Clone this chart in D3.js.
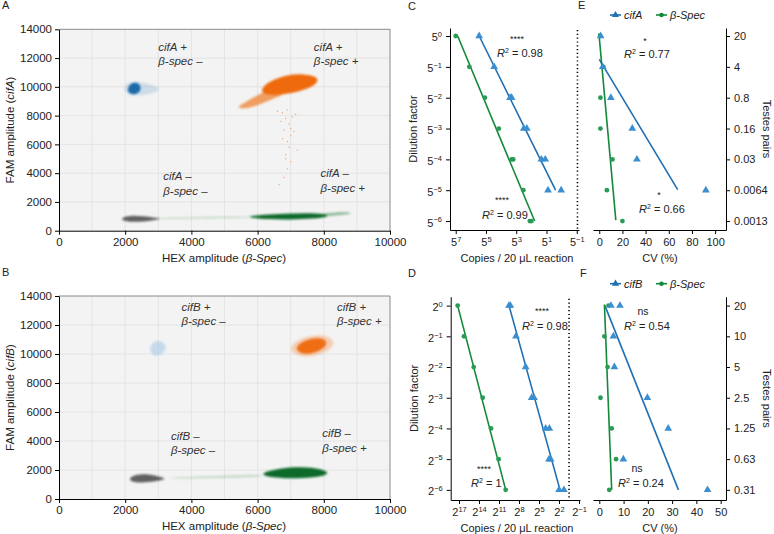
<!DOCTYPE html>
<html>
<head>
<meta charset="utf-8">
<script src="https://cdn.jsdelivr.net/npm/d3@7"></script>
<style>
  body { margin: 0; background: #fff; }
  svg { font-family: "Liberation Sans", Arial, sans-serif; }
  .tick text { fill: #222; }
  .domain, .tick line { stroke: #000; }
</style>
</head>
<body>
<svg id="fig" width="774" height="534"></svg>
<script>
// ---------- data ----------
const hexTicks = [0, 2000, 4000, 6000, 8000, 10000];
const famTicks = [0, 2000, 4000, 6000, 8000, 10000, 12000, 14000];

// droplet clouds, traced as outlines [HEX, FAM]
const aDoubleNeg = [[1880,820],[1960,690],[2200,600],[2550,630],[2850,730],[3150,830],[2850,910],[2550,1000],[2200,1080],[1960,960]];
const aStreak = [[2900,800],[4400,860],[5900,905],[5900,995],[4400,940],[2900,890]];
const aHexPos = [[5750,910],[6300,790],[7000,760],[7700,840],[8150,950],[8100,1170],[7500,1240],[6800,1190],[6200,1110],[5750,1020]];
const aHexTail = [[7900,980],[8400,1070],[8850,1170],[8800,1300],[8300,1260],[7900,1180]];
const aFamHalo = [[1950,9750],[2150,9350],[2700,9450],[3150,9800],[2800,10150],[2300,10450],[2000,10200]];
const aFamPos = [[2050,9800],[2130,9500],[2320,9460],[2460,9700],[2480,10020],[2370,10330],[2170,10280]];
const aBothTail = [[5450,8480],[5850,8550],[6450,9150],[6900,9550],[6700,9950],[6150,9650],[5650,8950],[5400,8650]];
const aBothPos = [[6150,9450],[6650,9420],[7300,9680],[7800,10150],[7850,10700],[7400,10900],[6900,10850],[6400,10450],[6100,9900]];
const aStray = [[6750,8200],[6850,7800],[6950,7400],[6800,7000],[7000,6600],[6900,6200],[6950,5800],[6850,5300],[7000,4800],[6900,4300],[6800,3700],[7050,7900],[6700,7600],[7100,6900],[6750,6400],[7200,5600],[6650,3200],[6900,8400],[7150,8100],[6600,8300],[7000,7100],[6850,5000]];

const bDoubleNeg = [[2100,1400],[2200,1180],[2500,1110],[2900,1200],[3300,1400],[3000,1560],[2700,1720],[2300,1700]];
const bStreak = [[3250,1390],[4800,1440],[6200,1530],[6200,1690],[4800,1590],[3250,1490]];
const bHexPos = [[6100,1650],[6500,1470],[7200,1400],[7850,1500],[8200,1760],[7950,2080],[7300,2230],[6700,2130],[6250,1890]];
const bFamPos = [[2700,10300],[2850,9850],[3100,9900],[3280,10450],[3100,10950],[2850,10900]];
const bBothHalo = [[6950,10200],[7350,9700],[8050,10000],[8400,10800],[8050,11400],[7400,11200],[7050,10700]];
const bBothPos = [[7150,10250],[7400,9920],[7900,10180],[8150,10750],[7950,11150],[7500,11020],[7200,10650]];

// cluster annotations [HEX, FAM, line1, line2]
const aLabels = [[3000,12500,"cifA +","β-spec –"],[7700,12500,"cifA +","β-spec +"],[3150,3500,"cifA –","β-spec –"],[7900,3700,"cifA –","β-spec +"]];
const bLabels = [[3700,13000,"cifB +","β-spec –"],[8400,13000,"cifB +","β-spec +"],[3380,4100,"cifB –","β-spec –"],[7950,4250,"cifB –","β-spec +"]];

// C: dilution 5^-n vs copies / 20 µL
const dilC = [1, 0.2, 0.04, 0.008, 0.0016, 0.00032, 0.000064];
const cSpec = [[1,78125],[0.2,18360],[0.04,3497],[0.008,796],[0.0016,203],[0.0016,172],[0.00032,58.7],[0.000064,29.4],[0.000064,25]];
const cCifA = [[1,6447],[0.2,1311],[0.04,241],[0.04,203],[0.008,55.9],[0.008,40.5],[0.0016,8.6],[0.0016,5.7],[0.00032,4.25],[0.00032,1.05]];
const cFitSpec = [[1,63360],[0.000064,17.6]];
const cFitCifA = [[1,6447],[0.00032,1.9]];
const cCopyTicks = [78125, 3125, 125, 5, 0.2];
const cCutoff = 0.185;

// D: dilution 2^-n
const dilD = [1, 0.5, 0.25, 0.125, 0.0625, 0.03125, 0.015625];
const dSpec = [[1,150562],[0.5,77936],[0.25,28526],[0.125,11193],[0.0625,4705],[0.03125,2120],[0.015625,1024]];
const dCifB = [[1,724],[1,630],[0.5,350],[0.25,128],[0.125,68.6],[0.125,53.8],[0.0625,16],[0.0625,10.9],[0.03125,11.3],[0.03125,9.5],[0.015625,4],[0.015625,2.4]];
const dFitSpec = [[1,150562],[0.015625,1024]];
const dFitCifB = [[1,724],[0.015625,3.6]];
const dCopyTicks = [131072, 16384, 2048, 256, 32, 4, 0.5];
const dCutoff = 1.41;

// E: CV (%) vs testes pairs
const pairsE = [20, 4, 0.8, 0.16, 0.032, 0.0064, 0.00128];
const pairsELabels = ["20","4","0.8","0.16","0.03","0.0064","0.0013"];
const eCifA = [[1.2,20],[3,4],[10,0.8],[28.5,0.16],[32.5,0.032],[92,0.0064]];
const eSpec = [[0.7,20],[3.5,4],[1,0.8],[1,0.16],[11.4,0.032],[6.6,0.0064],[20,0.00128]];
const eFitCifA = [[0,5.93],[67.7,0.0066]];
const eFitSpec = [[-0.3,23],[14.3,0.00134]];
const cvTicksE = [0, 20, 40, 60, 80, 100];

// F
const pairsF = [20, 10, 5, 2.5, 1.25, 0.625, 0.3125];
const pairsFLabels = ["20","10","5","2.5","1.25","0.63","0.31"];
const fCifB = [[4.8,20],[8.5,20],[5.8,10],[6.2,5],[19.8,2.5],[28.4,1.25],[9.9,0.625],[44.6,0.3125]];
const fSpec = [[3.8,20],[2.1,10],[3.4,5],[0.5,2.5],[5.1,1.25],[6.9,0.625],[4.1,0.3125]];
const fFitCifB = [[2.3,20],[32.6,0.3125]];
const fFitSpec = [[2.1,20.5],[5.1,0.3125]];
const cvTicksF = [0, 10, 20, 30, 40, 50];

// ---------- drawing ----------
const svg = d3.select("#fig");
const BLUE = "#1f6fb2", BLUE_PT = "#3b8fd0", GREEN = "#128a3a", GREEN_PT = "#2a9a55";
const TXT = "#222";

const defs = svg.append("defs");
defs.append("filter").attr("id", "soft").attr("x", "-20%").attr("y", "-20%").attr("width", "140%").attr("height", "140%")
  .append("feGaussianBlur").attr("stdDeviation", 0.9);

function panelLetter(t, x, y) {
  svg.append("text").attr("x", x).attr("y", y).attr("font-size", 11).attr("fill", TXT).text(t);
}

function supTicks(sel, base) {
  sel.each(function(d) {
    const e = Math.round(Math.log(d) / Math.log(base));
    const t = d3.select(this).text(null);
    t.append("tspan").text(base);
    t.append("tspan").attr("dy", "-0.55em").attr("font-size", "0.68em").text(e < 0 ? "−" + (-e) : e);
  });
}

function rsq(g, x, y, val) {
  const t = g.append("text").attr("x", x).attr("y", y).attr("font-size", 11).attr("fill", TXT);
  t.append("tspan").attr("font-style", "italic").text("R");
  t.append("tspan").attr("dy", -4).attr("font-size", 7).text("2");
  t.append("tspan").attr("dy", 4).text(" = " + val);
}
function stars(g, x, y, s, size) {
  g.append("text").attr("x", x).attr("y", y).attr("text-anchor", "middle")
    .attr("font-size", size || 9).attr("fill", TXT).text(s);
}

// droplet scatter panels
function droplets(top, bottom, clusters, strays, labels, yName) {
  const x = d3.scaleLinear().domain([0, 10000]).range([59, 390]);
  const y = d3.scaleLinear().domain([0, 14000]).range([bottom, top]);
  const g = svg.append("g");
  g.append("rect").attr("x", 59).attr("y", top).attr("width", 331).attr("height", bottom - top).attr("fill", "#f3f3f3");
  g.append("g").selectAll("line").data(d3.range(1000, 10000, 1000)).join("line")
    .attr("x1", d => x(d)).attr("x2", d => x(d)).attr("y1", top).attr("y2", bottom)
    .attr("stroke", "#e0e0e0").attr("stroke-width", 0.8);
  g.append("g").selectAll("line").data(famTicks.slice(1, -1)).join("line")
    .attr("y1", d => y(d)).attr("y2", d => y(d)).attr("x1", 59).attr("x2", 390)
    .attr("stroke", "#e0e0e0").attr("stroke-width", 0.8);
  g.append("path").attr("d", `M59,${top}H390V${bottom}`).attr("fill", "none").attr("stroke", "#8a8a8a");

  const line = d3.line().x(d => x(d[0])).y(d => y(d[1])).curve(d3.curveBasisClosed);
  g.append("g").attr("filter", "url(#soft)").selectAll("path").data(clusters).join("path")
    .attr("d", d => line(d.pts)).attr("fill", d => d.color).attr("fill-opacity", d => d.op);
  g.append("g").selectAll("circle").data(strays).join("circle")
    .attr("cx", d => x(d[0])).attr("cy", d => y(d[1])).attr("r", 0.7)
    .attr("fill", "#f08a40").attr("opacity", 0.7);

  g.append("g").attr("transform", `translate(0,${bottom})`)
    .call(d3.axisBottom(x).tickValues(hexTicks).tickFormat(d3.format("d")).tickSize(4).tickSizeOuter(0).tickPadding(3))
    .call(a => a.selectAll("text").attr("font-size", 11.5));
  g.append("g").attr("transform", "translate(59,0)")
    .call(d3.axisLeft(y).tickValues(famTicks).tickFormat(d3.format("d")).tickSize(4).tickSizeOuter(0).tickPadding(3))
    .call(a => a.selectAll("text").attr("font-size", 11.5));

  const lab = g.append("g").attr("font-size", 11.5).attr("font-style", "italic").attr("fill", "#333");
  labels.forEach(l => {
    lab.append("text").attr("x", x(l[0])).attr("y", y(l[1])).text(l[2]);
    lab.append("text").attr("x", x(l[0])).attr("y", y(l[1]) + 14.5).text(l[3]);
  });

  const xt = g.append("text").attr("x", 224).attr("y", bottom + 31).attr("text-anchor", "middle").attr("font-size", 11.5).attr("fill", TXT);
  xt.append("tspan").text("HEX amplitude (");
  xt.append("tspan").attr("font-style", "italic").text("β-Spec");
  xt.append("tspan").text(")");
  const cy = (top + bottom) / 2;
  const yt = g.append("text").attr("transform", `translate(14,${cy}) rotate(-90)`).attr("text-anchor", "middle").attr("font-size", 11.5).attr("fill", TXT);
  yt.append("tspan").text("FAM amplitude (");
  yt.append("tspan").attr("font-style", "italic").text(yName);
  yt.append("tspan").text(")");
}

droplets(29.3, 230.7, [
  { pts: aDoubleNeg, color: "#5a5a5a", op: 0.95 },
  { pts: aStreak, color: "#4f9a5e", op: 0.45 },
  { pts: aHexTail, color: "#2f8447", op: 0.55 },
  { pts: aHexPos, color: "#0d6a2c", op: 1 },
  { pts: aFamHalo, color: "#4a8cc4", op: 0.22 },
  { pts: aFamPos, color: "#1f6aa8", op: 1 },
  { pts: aBothTail, color: "#f07a24", op: 0.7 },
  { pts: aBothPos, color: "#ef6a0c", op: 1 }
], aStray, aLabels, "cifA");

droplets(296, 499, [
  { pts: bDoubleNeg, color: "#5a5a5a", op: 0.95 },
  { pts: bStreak, color: "#6aaa75", op: 0.35 },
  { pts: bHexPos, color: "#0d6a2c", op: 1 },
  { pts: bFamPos, color: "#8dbbe2", op: 0.45 },
  { pts: bBothHalo, color: "#f4a060", op: 0.45 },
  { pts: bBothPos, color: "#ef6a0c", op: 0.95 }
], [], bLabels, "cifB");

panelLetter("A", 2, 9);
panelLetter("B", 2, 276);

// standard-curve panels (C, D)
function standard(x, y, base, yTicks, xTicks, spec, gene, fitSpec, fitGene, cutoff, top, bottom, ann) {
  const g = svg.append("g");
  const left = x.range()[0];
  g.append("g").attr("transform", `translate(0,${bottom})`)
    .call(d3.axisBottom(x).tickValues(xTicks).tickSize(4).tickSizeOuter(0).tickPadding(4))
    .call(a => a.selectAll("text").attr("font-size", 11).call(supTicks, base));
  g.append("g").attr("transform", `translate(${left},0)`)
    .call(d3.axisLeft(y).tickValues(yTicks).tickSize(4).tickSizeOuter(0).tickPadding(4))
    .call(a => a.selectAll("text").attr("font-size", 11).attr("dy", "0.45em").call(supTicks, base));
  g.append("line").attr("x1", x(cutoff)).attr("x2", x(cutoff)).attr("y1", top + 2).attr("y2", bottom)
    .attr("stroke", "#000").attr("stroke-width", 1.6).attr("stroke-dasharray", "1.2,2.6");

  const line = d3.line().x(d => x(d[1])).y(d => y(d[0]));
  g.append("path").attr("d", line(fitSpec)).attr("stroke", GREEN).attr("stroke-width", 1.6).attr("fill", "none");
  g.append("path").attr("d", line(fitGene)).attr("stroke", BLUE).attr("stroke-width", 1.6).attr("fill", "none");
  g.append("g").selectAll("circle").data(spec).join("circle")
    .attr("cx", d => x(d[1])).attr("cy", d => y(d[0])).attr("r", 2.4).attr("fill", GREEN_PT);
  g.append("g").selectAll("path").data(gene).join("path")
    .attr("transform", d => `translate(${x(d[1])},${y(d[0])})`)
    .attr("d", d3.symbol(d3.symbolTriangle, 26)).attr("fill", BLUE_PT);

  g.append("text").attr("transform", `translate(${left - 33},${(top + bottom) / 2}) rotate(-90)`)
    .attr("text-anchor", "middle").attr("font-size", 11).attr("fill", TXT).text("Dilution factor");
  g.append("text").attr("x", 517).attr("y", bottom + 32).attr("text-anchor", "middle")
    .attr("font-size", 11).attr("fill", TXT).text("Copies / 20 μL reaction");
  ann.forEach(a => { stars(g, a[0], a[1], a[2]); rsq(g, a[3], a[4], a[5]); });
}

const xC = d3.scaleLog().base(5).domain([Math.pow(5, 7.377), Math.pow(5, -1.15)]).range([450, 579]);
const yC = d3.scaleLog().base(5).domain([Math.pow(5, 0.26), Math.pow(5, -6.29)]).range([28, 230]);
standard(xC, yC, 5, dilC, cCopyTicks, cSpec, cCifA, cFitSpec, cFitCifA, cCutoff, 28, 230,
  [[517, 42, "****", 497, 57, "0.98"], [502, 203, "****", 482, 219, "0.99"]]);

const xD = d3.scaleLog().base(2).domain([Math.pow(2, 18.245), Math.pow(2, -1.15)]).range([450.7, 580]);
const yD = d3.scaleLog().base(2).domain([Math.pow(2, 0.29), Math.pow(2, -6.33)]).range([296.7, 500]);
standard(xD, yD, 2, dilD, dCopyTicks, dSpec, dCifB, dFitSpec, dFitCifB, dCutoff, 296.7, 500,
  [[542, 314, "****", 522, 330, "0.98"], [484, 472, "****", 471, 487, "1"]]);

panelLetter("C", 408, 10);
panelLetter("D", 408, 277);

// CV panels (E, F)
function cvPanel(x, y, yTicks, yLabels, xTicks, gene, spec, fitGene, fitSpec, top, bottom, geneName, ann) {
  const g = svg.append("g");
  g.append("g").attr("transform", `translate(0,${bottom})`)
    .call(d3.axisBottom(x).tickValues(xTicks).tickSize(4).tickSizeOuter(0).tickPadding(4))
    .call(a => a.selectAll("text").attr("font-size", 11));
  g.append("g").attr("transform", "translate(726,0)")
    .call(d3.axisRight(y).tickValues(yTicks).tickFormat((d, i) => yLabels[i]).tickSize(4).tickSizeOuter(0).tickPadding(4))
    .call(a => a.selectAll("text").attr("font-size", 11));

  const line = d3.line().x(d => x(d[0])).y(d => y(d[1]));
  g.append("path").attr("d", line(fitGene)).attr("stroke", BLUE).attr("stroke-width", 1.6).attr("fill", "none");
  g.append("path").attr("d", line(fitSpec)).attr("stroke", GREEN).attr("stroke-width", 1.6).attr("fill", "none");
  g.append("g").selectAll("circle").data(spec).join("circle")
    .attr("cx", d => x(d[0])).attr("cy", d => y(d[1])).attr("r", 2.4).attr("fill", GREEN_PT);
  g.append("g").selectAll("path").data(gene).join("path")
    .attr("transform", d => `translate(${x(d[0])},${y(d[1])})`)
    .attr("d", d3.symbol(d3.symbolTriangle, 26)).attr("fill", BLUE_PT);

  g.append("text").attr("x", 660).attr("y", bottom + 32).attr("text-anchor", "middle")
    .attr("font-size", 11).attr("fill", TXT).text("CV (%)");
  g.append("text").attr("transform", `translate(763,${(top + bottom) / 2}) rotate(90)`)
    .attr("text-anchor", "middle").attr("font-size", 11).attr("fill", TXT).text("Testes pairs");

  // legend
  const ly = top - 13;
  const lg = g.append("g").attr("font-size", 11).attr("font-style", "italic").attr("fill", TXT);
  lg.append("line").attr("x1", 610).attr("x2", 621).attr("y1", ly).attr("y2", ly).attr("stroke", BLUE).attr("stroke-width", 1.6);
  lg.append("path").attr("transform", `translate(615.5,${ly})`).attr("d", d3.symbol(d3.symbolTriangle, 22)).attr("fill", BLUE);
  lg.append("text").attr("x", 624).attr("y", ly + 4).text(geneName);
  lg.append("line").attr("x1", 656).attr("x2", 667).attr("y1", ly).attr("y2", ly).attr("stroke", GREEN).attr("stroke-width", 1.6);
  lg.append("circle").attr("cx", 661.5).attr("cy", ly).attr("r", 2.3).attr("fill", GREEN);
  lg.append("text").attr("x", 670).attr("y", ly + 4).text("β-Spec");

  ann.forEach(a => { stars(g, a[0], a[1], a[2], a[2] === "ns" ? 10.5 : 9); rsq(g, a[3], a[4], a[5]); });
}

const xE = d3.scaleLinear().domain([-5.4, 109.4]).range([593, 726]);
const yE = d3.scaleLog().base(5).domain([20 * Math.pow(5, 0.26), 0.00128 * Math.pow(5, -0.29)]).range([28, 230]);
cvPanel(xE, yE, pairsE, pairsELabels, cvTicksE, eCifA, eSpec, eFitCifA, eFitSpec, 28, 230, "cifA",
  [[645, 44, "*", 624, 58, "0.77"], [659, 198, "*", 639, 213, "0.66"]]);

const xF = d3.scaleLinear().domain([-2.6, 52.2]).range([593, 726]);
const yF = d3.scaleLog().base(2).domain([20 * Math.pow(2, 0.29), 0.3125 * Math.pow(2, -0.33)]).range([296.7, 500]);
cvPanel(xF, yF, pairsF, pairsFLabels, cvTicksF, fCifB, fSpec, fFitCifB, fFitSpec, 296.7, 500, "cifB",
  [[643, 315, "ns", 624, 330, "0.54"], [637, 472, "ns", 618, 487, "0.24"]]);

panelLetter("E", 578, 9);
panelLetter("F", 580, 277);
</script>
</body>
</html>
